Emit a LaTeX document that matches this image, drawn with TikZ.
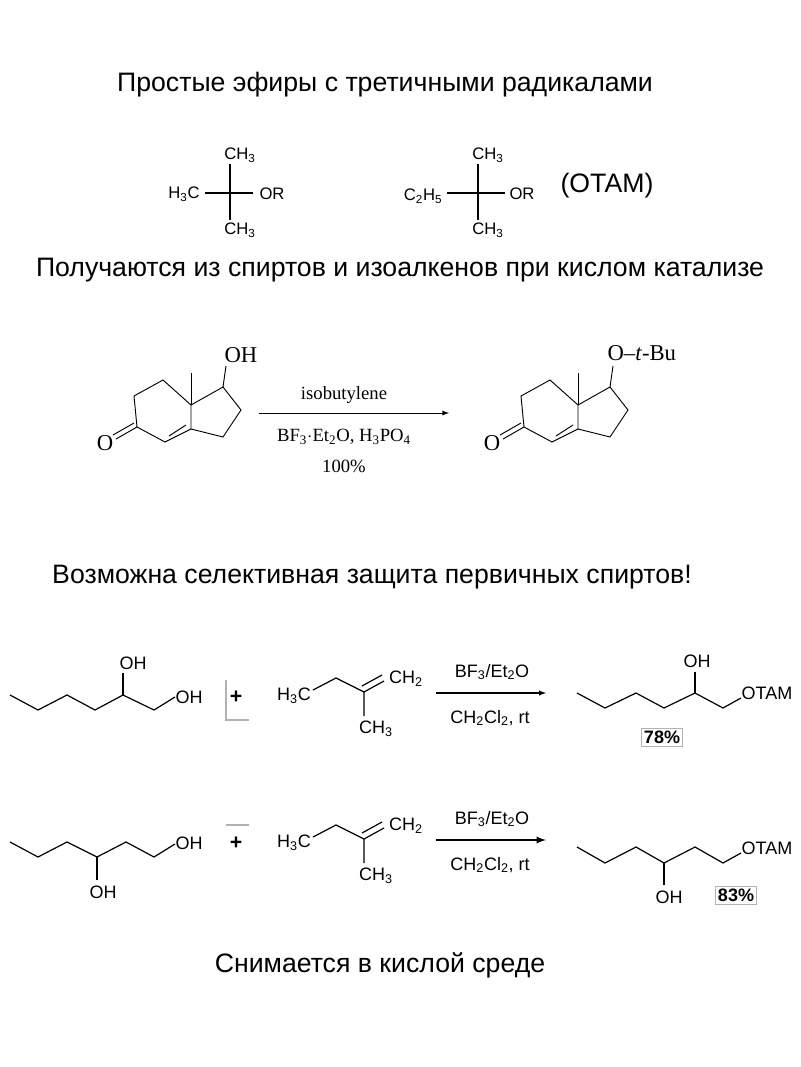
\documentclass[tikz,border=0pt]{standalone}
\usepackage{fontspec}
\setmainfont{Liberation Sans}
\newfontfamily\tms{Liberation Serif}
\begin{document}
\begin{tikzpicture}[x=0.75pt,y=-0.75pt,
  title/.style={font=\fontsize{20}{22}\selectfont},
  slab/.style={font=\fontsize{12.5}{14}\selectfont,inner sep=1pt},
  lab/.style={font=\fontsize{13.5}{15}\selectfont,inner sep=1pt},
  rlab/.style={font=\tms\fontsize{14}{16}\selectfont,inner sep=1pt},
  blab/.style={font=\tms\fontsize{17}{19}\selectfont,inner sep=1pt},
  bnd/.style={line width=0.9pt},
  ybox/.style={draw=gray!60,font=\bfseries\fontsize{13.5}{15}\selectfont,inner sep=2pt}]
\useasboundingbox (0,0) rectangle (800,1067);
\node[title] (t1) at (385,85) {Простые эфиры с третичными радикалами};
% tert-butyl
\draw[bnd] (205,193) -- (253,193) (230,164) -- (230,220);
\node[slab] (a1) at (240,155) {CH\textsubscript{3}};
\node[slab] (a2) at (184,194) {H\textsubscript{3}C};
\node[slab] (a3) at (272,194) {OR};
\node[slab] (a4) at (240,230) {CH\textsubscript{3}};
% tert-amyl
\draw[bnd] (447,193) -- (505,193) (478,164) -- (478,220);
\node[slab] (b1) at (488,155) {CH\textsubscript{3}};
\node[slab] (b2) at (423,196) {C\textsubscript{2}H\textsubscript{5}};
\node[slab] (b3) at (522,194) {OR};
\node[slab] (b4) at (488,230) {CH\textsubscript{3}};
\node[title] (b5) at (607,186) {(OTAM)};
\node[title] (t2) at (400,270) {Получаются из спиртов и изоалкенов при кислом катализе};
% bicyclics
\foreach \dx in {0,387}{
\begin{scope}[xshift=\dx*0.75pt]
\draw[line width=0.7pt] (191,405) -- (163,380) -- (134,396) -- (137,427) -- (165,442) -- (191,429) -- cycle;
\draw[line width=0.7pt] (191,405) -- (191,373);
\draw[line width=0.7pt] (191,405) -- (223,387) -- (241,410) -- (223,437) -- (191,429);
\draw[line width=0.7pt] (169,436) -- (186,425);
\draw[line width=0.7pt] (137,427) -- (116,439) (134,423) -- (113,435);
\draw[line width=0.7pt] (223,387) -- (226,366);
\end{scope}}
\node[blab] (o1) at (105,443) {O};
\node[blab] (o2) at (241,355) {OH};
\node[blab] (o3) at (492,443) {O};
\node[blab,anchor=west] (o4) at (606,353) {O–\textit{t}-Bu};
\coordinate (ar1) at (259,413); \coordinate (ar2) at (449,413);
\draw[line width=0.7pt,-latex] (ar1) -- (ar2);
\node[rlab] (r1) at (344,395) {isobutylene};
\node[rlab] (r2) at (344,437) {BF\textsubscript{3}$\cdot$Et\textsubscript{2}O, H\textsubscript{3}PO\textsubscript{4}};
\node[rlab] (r3) at (344,466) {100\%};
\node[title] (t3) at (372,577) {Возможна селективная защита первичных спиртов!};
% row 1
\draw[bnd] (10,695) -- (38,710) -- (67,695) -- (95,710) -- (123,695) -- (154,710) -- (175,697);
\draw[bnd] (123,695) -- (123,673);
\node[lab,anchor=west] (c1) at (174,697) {OH};
\node[lab] (c2) at (133,663) {OH};
\draw[gray!60,line width=0.8pt] (226,680) -- (226,720) -- (249,720);
\node[font=\bfseries\fontsize{16}{16}\selectfont] (p1) at (236,697) {+};
% row 2
\draw[bnd] (10,842) -- (38,857) -- (67,842) -- (97,857) -- (126,842) -- (154,857) -- (175,844);
\draw[bnd] (97,857) -- (97,880);
\node[lab,anchor=west] (d1) at (174,843) {OH};
\node[lab] (d2) at (103,892) {OH};
\draw[gray!60,line width=0.8pt] (226,825) -- (249,825);
\node[font=\bfseries\fontsize{16}{16}\selectfont] (p2) at (236,843) {+};
\foreach \dy/\th in {0/0.8pt,147/1.4pt}{
\begin{scope}[yshift=-\dy*0.75pt]
\draw[bnd] (313,690) -- (336,678) -- (364,692) -- (384,681) (364,692) -- (364,716);
\draw[bnd] (362,686) -- (382,675);
\draw[line width=\th,-latex] (436,693) -- (546,693);
\end{scope}}
\foreach \dy/\s in {0/e,147/f}{
\node[lab] (\s1) at (294,696+\dy) {H\textsubscript{3}C};
\node[lab] (\s2) at (406,679+\dy) {CH\textsubscript{2}};
\node[lab] (\s3) at (376,729+\dy) {CH\textsubscript{3}};
\node[lab] (\s4) at (492,672+\dy) {BF\textsubscript{3}/Et\textsubscript{2}O};
\node[lab] (\s5) at (490,718+\dy) {CH\textsubscript{2}Cl\textsubscript{2}, rt};
}
% products
\draw[bnd] (577,693) -- (605,708) -- (636,693) -- (664,708) -- (695,693) -- (723,708) -- (741,698);
\draw[bnd] (695,693) -- (695,672);
\node[lab] (g1) at (697,661) {OH};
\node[lab,anchor=west] (g2) at (740,693) {OTAM};
\node[ybox] (g3) at (662,737) {78\%};
\draw[bnd] (577,847) -- (605,863) -- (636,847) -- (664,863) -- (695,847) -- (723,863) -- (741,853);
\draw[bnd] (664,863) -- (664,885);
\node[lab] (h1) at (669,897) {OH};
\node[lab,anchor=west] (h2) at (740,848) {OTAM};
\node[ybox] (h3) at (736,895) {83\%};
\node[title] (t4) at (380,965) {Снимается в кислой среде};
\end{tikzpicture}
\end{document}
